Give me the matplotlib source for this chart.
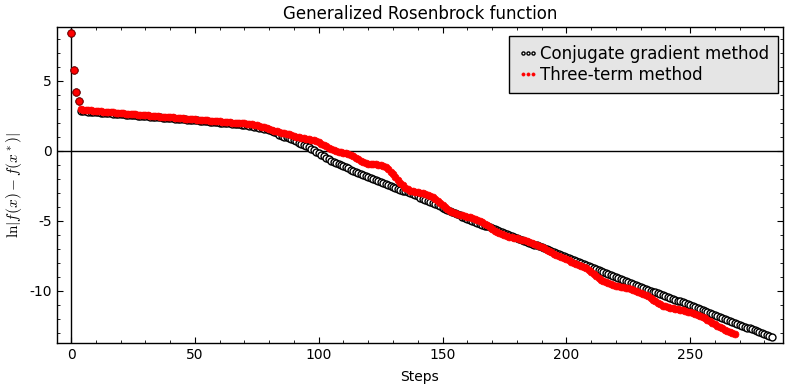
import matplotlib
matplotlib.use("Agg")
import matplotlib.pyplot as plt
from matplotlib.ticker import MultipleLocator

plt.rcParams['font.family'] = ['DejaVu Sans']
plt.rcParams['mathtext.fontset'] = 'cm'
plt.rcParams['axes.unicode_minus'] = False

title = "Generalized Rosenbrock function"
xlabel = "Steps"
ylabel = r"$\ln|f(x)-f(x^*)|$"
label_cg = "Conjugate gradient method"
label_tt = "Three-term method"

cg_values = [
    8.40, 5.80, 4.20, 3.60, 2.85, 2.84, 2.82, 2.81, 2.79, 2.78,
    2.76, 2.75, 2.74, 2.72, 2.71, 2.69, 2.68, 2.66, 2.65, 2.64,
    2.62, 2.61, 2.59, 2.58, 2.57, 2.55, 2.54, 2.52, 2.51, 2.50,
    2.48, 2.47, 2.45, 2.44, 2.43, 2.41, 2.40, 2.38, 2.37, 2.36,
    2.34, 2.33, 2.31, 2.30, 2.29, 2.27, 2.26, 2.24, 2.23, 2.22,
    2.20, 2.18, 2.17, 2.15, 2.13, 2.11, 2.10, 2.08, 2.06, 2.04,
    2.03, 2.01, 1.99, 1.97, 1.96, 1.94, 1.92, 1.90, 1.89, 1.87,
    1.85, 1.82, 1.79, 1.76, 1.73, 1.70, 1.66, 1.62, 1.58, 1.54,
    1.50, 1.42, 1.34, 1.25, 1.15, 1.09, 1.03, 0.97, 0.90, 0.83,
    0.76, 0.68, 0.60, 0.51, 0.42, 0.34, 0.25, 0.15, 0.05, -0.05,
    -0.15, -0.26, -0.37, -0.48, -0.60, -0.69, -0.78, -0.86, -0.95, -1.03,
    -1.10, -1.18, -1.25, -1.33, -1.40, -1.48, -1.55, -1.63, -1.71, -1.78,
    -1.85, -1.92, -1.99, -2.06, -2.13, -2.20, -2.27, -2.34, -2.41, -2.48,
    -2.55, -2.62, -2.69, -2.76, -2.83, -2.90, -2.97, -3.04, -3.11, -3.18,
    -3.25, -3.33, -3.41, -3.49, -3.57, -3.65, -3.73, -3.81, -3.89, -3.97,
    -4.05, -4.13, -4.21, -4.29, -4.37, -4.45, -4.53, -4.61, -4.69, -4.77,
    -4.85, -4.92, -4.99, -5.05, -5.12, -5.19, -5.26, -5.33, -5.39, -5.46,
    -5.53, -5.60, -5.67, -5.73, -5.80, -5.87, -5.94, -6.01, -6.07, -6.14,
    -6.21, -6.28, -6.35, -6.41, -6.48, -6.55, -6.62, -6.69, -6.75, -6.82,
    -6.89, -6.96, -7.03, -7.09, -7.16, -7.23, -7.30, -7.37, -7.43, -7.50,
    -7.57, -7.64, -7.71, -7.77, -7.84, -7.91, -7.98, -8.05, -8.13, -8.20,
    -8.27, -8.34, -8.41, -8.49, -8.56, -8.63, -8.70, -8.77, -8.85, -8.92,
    -8.99, -9.06, -9.13, -9.21, -9.28, -9.35, -9.42, -9.49, -9.57, -9.64,
    -9.71, -9.78, -9.85, -9.92, -9.98, -10.05, -10.11, -10.18, -10.24, -10.31,
    -10.37, -10.44, -10.50, -10.57, -10.63, -10.70, -10.76, -10.83, -10.89, -10.96,
    -11.02, -11.09, -11.15, -11.22, -11.29, -11.36, -11.43, -11.50, -11.57, -11.64,
    -11.71, -11.78, -11.85, -11.92, -11.99, -12.06, -12.13, -12.20, -12.27, -12.34,
    -12.41, -12.48, -12.55, -12.62, -12.69, -12.76, -12.83, -12.90, -12.97, -13.04,
    -13.11, -13.18, -13.25, -13.32,
]

tt_values = [
    8.40, 5.80, 4.20, 3.60, 3.00, 2.95, 2.93, 2.91, 2.89, 2.87,
    2.85, 2.84, 2.82, 2.81, 2.79, 2.78, 2.76, 2.75, 2.73, 2.72,
    2.70, 2.69, 2.67, 2.66, 2.64, 2.63, 2.61, 2.60, 2.58, 2.57,
    2.55, 2.54, 2.52, 2.51, 2.49, 2.48, 2.46, 2.45, 2.43, 2.42,
    2.40, 2.39, 2.37, 2.36, 2.34, 2.33, 2.31, 2.30, 2.28, 2.27,
    2.25, 2.24, 2.22, 2.21, 2.20, 2.18, 2.17, 2.15, 2.14, 2.12,
    2.11, 2.09, 2.08, 2.06, 2.05, 2.03, 2.02, 2.01, 2.00, 1.99,
    1.98, 1.95, 1.92, 1.89, 1.86, 1.82, 1.78, 1.73, 1.68, 1.62,
    1.56, 1.50, 1.44, 1.39, 1.35, 1.31, 1.27, 1.23, 1.18, 1.13,
    1.08, 1.03, 0.99, 0.95, 0.91, 0.88, 0.85, 0.81, 0.77, 0.70,
    0.62, 0.52, 0.42, 0.32, 0.22, 0.13, 0.05, -0.02, -0.07, -0.11,
    -0.14, -0.17, -0.20, -0.26, -0.36, -0.48, -0.60, -0.71, -0.80, -0.86,
    -0.90, -0.93, -0.95, -0.97, -0.99, -1.02, -1.08, -1.18, -1.32, -1.48,
    -1.66, -1.86, -2.06, -2.26, -2.45, -2.62, -2.75, -2.84, -2.90, -2.94,
    -2.97, -3.00, -3.03, -3.07, -3.13, -3.21, -3.31, -3.43, -3.56, -3.71,
    -3.86, -4.01, -4.15, -4.28, -4.38, -4.46, -4.52, -4.57, -4.61, -4.65,
    -4.69, -4.73, -4.78, -4.84, -4.91, -4.99, -5.08, -5.19, -5.31, -5.44,
    -5.57, -5.69, -5.80, -5.89, -5.97, -6.03, -6.08, -6.12, -6.16, -6.20,
    -6.24, -6.29, -6.34, -6.40, -6.46, -6.52, -6.58, -6.64, -6.71, -6.79,
    -6.88, -6.97, -7.06, -7.15, -7.24, -7.34, -7.43, -7.51, -7.59, -7.67,
    -7.75, -7.83, -7.91, -7.98, -8.05, -8.12, -8.20, -8.29, -8.40, -8.52,
    -8.65, -8.79, -8.93, -9.07, -9.20, -9.31, -9.40, -9.47, -9.53, -9.58,
    -9.62, -9.66, -9.70, -9.74, -9.78, -9.83, -9.88, -9.93, -9.99, -10.06,
    -10.13, -10.21, -10.30, -10.40, -10.51, -10.63, -10.75, -10.87, -10.97, -11.05,
    -11.11, -11.16, -11.20, -11.24, -11.28, -11.32, -11.36, -11.40, -11.44, -11.48,
    -11.52, -11.57, -11.63, -11.70, -11.78, -11.86, -11.95, -12.05, -12.16, -12.27,
    -12.38, -12.49, -12.59, -12.69, -12.78, -12.86, -12.93, -12.99, -13.05,
]

cg_steps = list(range(len(cg_values)))
tt_steps = list(range(len(tt_values)))

fig = plt.figure(figsize=(7.87, 3.85), dpi=100)
ax = fig.add_axes([0.0724, 0.109, 0.9225, 0.821])

ax.axhline(0, color='black', lw=1.0, zorder=1)
ax.axvline(0, color='black', lw=1.0, zorder=1)

ax.plot(cg_steps, cg_values, linestyle='none', marker='o', markersize=5,
        markerfacecolor='white', markeredgecolor='black', markeredgewidth=1.0,
        label=label_cg, zorder=2)
ax.plot(tt_steps, tt_values, linestyle='none', marker='o', markersize=5,
        markerfacecolor='red', markeredgecolor='red', markeredgewidth=0.5,
        label=label_tt, zorder=3)
ax.plot(tt_steps[:4], tt_values[:4], linestyle='none', marker='o', markersize=5,
        markerfacecolor='red', markeredgecolor='#8b0000', markeredgewidth=0.6,
        zorder=4)

ax.set_xlim(-5.7, 287.5)
ax.set_ylim(-13.73, 8.86)
ax.xaxis.set_major_locator(MultipleLocator(50))
ax.xaxis.set_minor_locator(MultipleLocator(10))
ax.yaxis.set_major_locator(MultipleLocator(5))
ax.yaxis.set_minor_locator(MultipleLocator(1))
ax.tick_params(which='both', direction='in', top=True, right=True, labelsize=10)
ax.tick_params(which='major', length=4, width=0.8)
ax.tick_params(which='minor', length=2, width=0.6)
for s in ax.spines.values():
    s.set_linewidth(1.0)
    s.set_color('black')

ax.set_title(title, fontsize=12, pad=6)
ax.set_xlabel(xlabel, fontsize=10, labelpad=6)
ax.set_ylabel(ylabel, fontsize=11, labelpad=4)

leg = ax.legend(loc='upper right', bbox_to_anchor=(0.993, 0.972), fontsize=12,
                numpoints=3, markerscale=0.45, handlelength=1.2, handletextpad=0.1,
                borderpad=0.55, labelspacing=0.2, fancybox=False, framealpha=1.0,
                borderaxespad=0.0)
leg.get_frame().set_facecolor('#e5e5e5')
leg.get_frame().set_edgecolor('black')
leg.get_frame().set_linewidth(1.0)

fig.savefig('out.png', dpi=100)
